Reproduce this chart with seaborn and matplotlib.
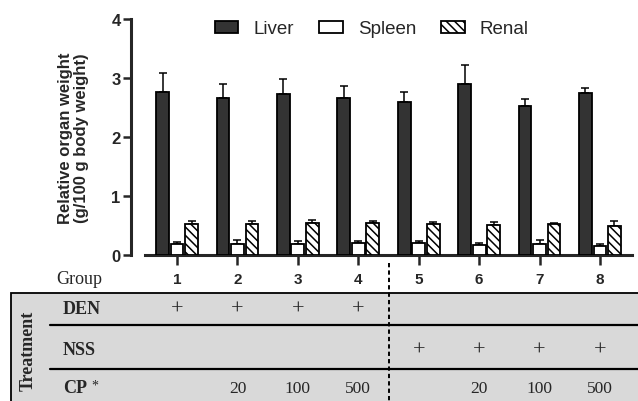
import numpy as np
import pandas as pd
import matplotlib
matplotlib.use("Agg")
import matplotlib.pyplot as plt
import matplotlib.transforms as mtransforms
from matplotlib.patches import Rectangle, Patch
from matplotlib.lines import Line2D
import seaborn as sns

# ---------------- data ----------------
groups = ["1", "2", "3", "4", "5", "6", "7", "8"]
organs = ["Liver", "Spleen", "Renal"]
liver = [2.77, 2.66, 2.73, 2.66, 2.59, 2.90, 2.53, 2.75]
liver_err = [0.31, 0.24, 0.25, 0.20, 0.17, 0.32, 0.12, 0.08]
spleen = [0.19, 0.19, 0.19, 0.20, 0.20, 0.17, 0.19, 0.15]
spleen_err = [0.03, 0.06, 0.04, 0.03, 0.04, 0.03, 0.06, 0.03]
renal = [0.52, 0.52, 0.54, 0.54, 0.52, 0.51, 0.52, 0.50]
renal_err = [0.06, 0.05, 0.06, 0.03, 0.04, 0.05, 0.03, 0.07]
den_marks = ["+", "+", "+", "+", "", "", "", ""]
nss_marks = ["", "", "", "", "+", "+", "+", "+"]
cp_doses = ["", "20", "100", "500", "", "20", "100", "500"]

df = pd.DataFrame({
    "group": groups * 3,
    "organ": np.repeat(organs, len(groups)),
    "value": liver + spleen + renal,
    "err": liver_err + spleen_err + renal_err,
})

# ---------------- style ----------------
sns.set_style("ticks")
plt.rcParams["font.family"] = ["Liberation Sans", "DejaVu Sans"]
plt.rcParams["hatch.linewidth"] = 1.1

W, H = 638, 402
fig = plt.figure(figsize=(W / 100, H / 100), dpi=100)

def fx(x):
    return x / W

def fy(y):
    return 1 - y / H

ax = fig.add_axes([fx(145), fy(256), (632 - 145) / W, (256 - 20) / H])

palette = {"Liver": "#333333", "Spleen": "#ffffff", "Renal": "#ffffff"}
sns.barplot(data=df, x="group", y="value", hue="organ", hue_order=organs,
            palette=palette, width=0.72, gap=0.12, edgecolor="black",
            linewidth=1.3, errorbar=None, legend=False, ax=ax, zorder=3)

errs = [liver_err, spleen_err, renal_err]
bar_containers = list(ax.containers)
for ci, cont in enumerate(bar_containers):
    xs, ys = [], []
    for bar in cont.patches:
        xs.append(bar.get_x() + bar.get_width() / 2)
        ys.append(bar.get_height())
        if organs[ci] == "Renal":
            bar.set_hatch("\\\\\\\\")
    e = np.array(errs[ci])
    ax.errorbar(xs, ys, yerr=[np.zeros_like(e), e], fmt="none",
                ecolor="black", elinewidth=1.1, capsize=3.2, capthick=1.1,
                zorder=2)

sns.despine(ax=ax)
ax.spines["left"].set_position(("outward", 10))
ax.spines["left"].set_linewidth(2.2)
ax.spines["bottom"].set_linewidth(2.2)

ax.set_ylim(0, 4)
ax.set_xlim(-0.53, 7.53)
ax.spines["left"].set_bounds(0, 4)
ax.set_yticks([0, 1, 2, 3, 4])
ax.set_yticklabels(["0", "1", "2", "3", "4"], fontsize=12, fontweight="bold")
ax.set_xticks(range(len(groups)))
ax.set_xticklabels(groups, fontsize=11, fontweight="bold")
ax.set_xlabel("")
ax.set_ylabel("Relative organ weight\n(g/100 g body weight)", fontsize=12,
              fontweight="bold", linespacing=1.05)
ax.yaxis.set_label_coords(-0.115, 0.5)
ax.tick_params(axis="y", length=5.5, width=1.8, pad=2)
ax.tick_params(axis="x", length=7, width=1.8, pad=5)

# legend
handles = [
    Patch(facecolor="#333333", edgecolor="black", linewidth=1.3, label="Liver"),
    Patch(facecolor="white", edgecolor="black", linewidth=1.3, label="Spleen"),
    Patch(facecolor="white", edgecolor="black", linewidth=1.3, hatch="\\\\\\\\", label="Renal"),
]
fig.legend(handles=handles, ncol=3, loc="center left",
           bbox_to_anchor=(fx(200), fy(30)), frameon=False, fontsize=13.5,
           handlelength=1.25, handleheight=0.55, handletextpad=0.8,
           columnspacing=1.35, borderpad=0.3)

# ---------------- treatment table ----------------
serif = ["Liberation Serif", "DejaVu Serif"]
fig.add_artist(Rectangle((fx(11), fy(410)), 1.0, (410 - 294) / H,
                         transform=fig.transFigure, facecolor="#d9d9d9",
                         edgecolor="black", linewidth=1.3, zorder=0))
for yl in (326, 370):
    fig.add_artist(Line2D([fx(50), 1.0], [fy(yl), fy(yl)],
                          transform=fig.transFigure, color="black",
                          linewidth=1.6))

blend = mtransforms.blended_transform_factory(ax.transData, fig.transFigure)
fig.add_artist(Line2D([3.5, 3.5], [fy(264), 0.0], transform=blend,
                      color="black", linewidth=1.4, linestyle=(0, (2.2, 1.6))))

fig.text(fx(56), fy(280), "Group", fontsize=13, family=serif, va="center", ha="left")
fig.text(fx(63), fy(310), "DEN", fontsize=13, family=serif, fontweight="bold", va="center")
fig.text(fx(63), fy(351), "NSS", fontsize=13, family=serif, fontweight="bold", va="center")
fig.text(fx(63), fy(389), "CP", fontsize=13, family=serif, fontweight="bold", va="center")
fig.text(fx(91), fy(386), "*", fontsize=10, family=serif, va="center")
fig.text(fx(28), fy(351), "Treatment", fontsize=13, family=serif,
         fontweight="bold", rotation=90, va="center", ha="center")

for i in range(len(groups)):
    if den_marks[i]:
        fig.text(i, fy(310), den_marks[i], transform=blend, fontsize=16,
                 family=serif, ha="center", va="center")
    if nss_marks[i]:
        fig.text(i, fy(351), nss_marks[i], transform=blend, fontsize=16,
                 family=serif, ha="center", va="center")
    if cp_doses[i]:
        fig.text(i, fy(389), cp_doses[i], transform=blend, fontsize=12.5,
                 family=serif, ha="center", va="center")

fig.savefig("out.png", dpi=100)
